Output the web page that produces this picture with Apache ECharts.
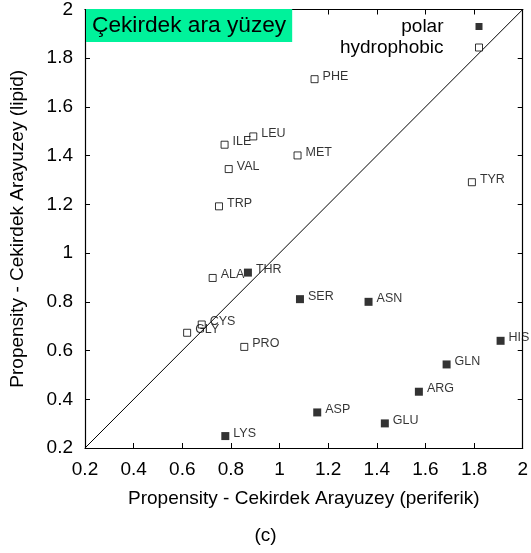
<!DOCTYPE html>
<html>
<head>
<meta charset="utf-8">
<script src="https://cdn.jsdelivr.net/npm/echarts@6/dist/echarts.min.js"></script>
<style>html,body{margin:0;padding:0;background:#fff;}#c{width:531px;height:553px;}</style>
</head>
<body>
<div id="c"></div>
<script>
const polarNames = ['THR','SER','ASN','HIS','GLN','ARG','GLU','ASP','LYS'];
const polarX = [0.87, 1.084, 1.366, 1.909, 1.687, 1.573, 1.433, 1.155, 0.777];
const polarY = [0.92, 0.811, 0.800, 0.640, 0.543, 0.431, 0.301, 0.346, 0.249];

const hydroNames = ['PHE','TYR','LEU','ILE','VAL','MET','TRP','ALA','CYS','GLY','PRO'];
const hydroX = [1.144, 1.791, 0.892, 0.774, 0.791, 1.074, 0.751, 0.725, 0.680, 0.620, 0.855];
const hydroY = [1.714, 1.291, 1.479, 1.445, 1.345, 1.401, 1.192, 0.898, 0.707, 0.673, 0.615];

const diagonal = [0.2, 2];
const axisMin = 0.2, axisMax = 2, axisStep = 0.2;

const titleText = 'Çekirdek ara yüzey';
const xName = 'Propensity - Cekirdek Arayuzey (periferik)';
const yName = 'Propensity - Cekirdek Arayuzey (lipid)';
const caption = '(c)';

const FONT = '"Liberation Sans", Arial, Helvetica, sans-serif';
const fmt = v => String(parseFloat(Number(v).toFixed(1)));
const sq = 'path://M0,0L1,0L1,1L0,1Z';

const mk = (names, xs, ys) => names.map((n, i) => ({name: n, value: [xs[i], ys[i]]}));

const baseAxis = {
  min: axisMin, max: axisMax, interval: axisStep,
  axisLine: {show: true, lineStyle: {color: '#000', width: 1.2}},
  axisTick: {show: true, inside: true, length: 5, lineStyle: {color: '#000', width: 1}},
  splitLine: {show: false}
};

const labelCfg = {
  show: true, position: 'right', distance: 4, offset: [0, -3],
  formatter: p => p.name, color: '#000', fontSize: 12.5, fontFamily: FONT
};

const chart = echarts.init(document.getElementById('c'), null, {renderer: 'canvas'});
chart.setOption({
  animation: false,
  backgroundColor: '#fff',
  title: [
    {text: titleText, left: 86, top: 9, backgroundColor: '#00F29B', padding: [5, 6, 5, 6],
     textStyle: {fontSize: 22.7, fontWeight: 'normal', color: '#000', fontFamily: FONT}},
    {text: caption, left: 'center', top: 526, padding: 0,
     textStyle: {fontSize: 19, fontWeight: 'normal', color: '#000', fontFamily: FONT}}
  ],
  legend: {
    orient: 'vertical', align: 'right', right: 43, top: 12,
    itemWidth: 61, itemHeight: 7, itemGap: 2,
    data: [{name: 'polar', icon: sq}, {name: 'hydrophobic', icon: sq}],
    itemStyle: {borderWidth: 1},
    textStyle: {fontSize: 19, color: '#000', fontFamily: FONT}
  },
  grid: {left: 85, right: 8, top: 9, bottom: 105},
  xAxis: [
    Object.assign({}, baseAxis, {
      type: 'value', position: 'bottom',
      name: xName, nameLocation: 'middle', nameGap: 41,
      nameTextStyle: {fontSize: 19, color: '#000', fontFamily: FONT},
      axisLabel: {formatter: fmt, fontSize: 19, color: '#000', fontFamily: FONT, margin: 12}
    }),
    Object.assign({}, baseAxis, {type: 'value', position: 'top', axisLabel: {show: false}})
  ],
  yAxis: [
    Object.assign({}, baseAxis, {
      type: 'value', position: 'left',
      name: yName, nameLocation: 'middle', nameGap: 58,
      nameTextStyle: {fontSize: 19, color: '#000', fontFamily: FONT},
      axisLabel: {formatter: fmt, fontSize: 19, color: '#000', fontFamily: FONT, margin: 12}
    }),
    Object.assign({}, baseAxis, {type: 'value', position: 'right', axisLabel: {show: false}})
  ],
  series: [
    {
      type: 'line', data: [[diagonal[0], diagonal[0]], [diagonal[1], diagonal[1]]],
      showSymbol: false, symbol: 'none', silent: true,
      lineStyle: {color: '#000', width: 1}, z: 1
    },
    {
      name: 'polar', type: 'scatter', symbol: 'rect', symbolSize: 8,
      itemStyle: {color: '#000'},
      label: labelCfg,
      data: mk(polarNames, polarX, polarY), z: 3
    },
    {
      name: 'hydrophobic', type: 'scatter', symbol: 'rect', symbolSize: 7,
      itemStyle: {color: '#fff', borderColor: '#000', borderWidth: 1},
      label: labelCfg,
      data: mk(hydroNames, hydroX, hydroY), z: 3
    }
  ]
});
</script>
</body>
</html>
